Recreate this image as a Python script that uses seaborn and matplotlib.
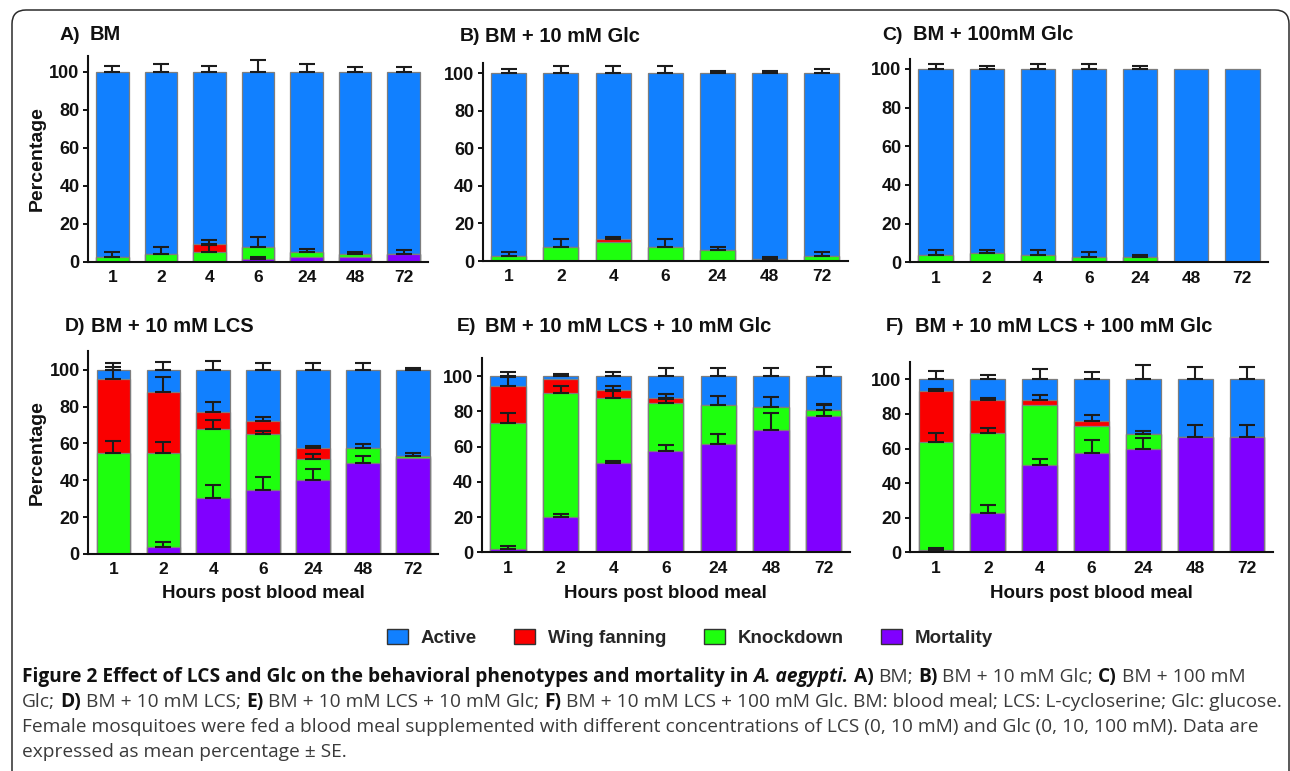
import numpy as np
import matplotlib
matplotlib.use('Agg')
import matplotlib.pyplot as plt
from matplotlib.patches import FancyBboxPatch, Patch
import seaborn as sns

hours = ['1', '2', '4', '6', '24', '48', '72']

# A) BM
mort_A = [0, 0, 0, 1.4, 2.5, 2.5, 3.9]
knock_A = [2.5, 3.9, 4.9, 6.5, 2.8, 1.4, 0]
wing_A = [0, 0, 4.2, 0, 0, 0, 0]
active_A = [97.5, 96.1, 90.9, 92.1, 94.7, 96.1, 96.1]
mort_se_A = [0, 0, 0, 1.1, 0, 0, 2.4]
knock_se_A = [2.8, 4.0, 3.7, 4.9, 1.2, 1.4, 0]
wing_se_A = [0, 0, 2.3, 0, 0, 0, 0]
active_se_A = [2.8, 4.2, 2.8, 6.1, 3.9, 2.5, 2.5]

# B) BM + 10 mM Glc
mort_B = [0, 0, 0, 0, 0, 0, 0]
knock_B = [2.5, 7.5, 10.1, 7.5, 6.0, 0.9, 2.5]
wing_B = [0, 0, 1.4, 0, 0, 0, 0]
active_B = [97.5, 92.5, 88.5, 92.5, 94.0, 99.1, 97.5]
mort_se_B = [0, 0, 0, 0, 0, 0, 0]
knock_se_B = [2.5, 4.0, 0, 4.0, 1.6, 1.2, 2.5]
wing_se_B = [0, 0, 1.3, 0, 0, 0, 0]
active_se_B = [2.3, 3.9, 3.9, 3.9, 1.1, 1.1, 2.3]

# C) BM + 100mM Glc
mort_C = [0, 0, 0, 0, 0, 0, 0]
knock_C = [3.8, 5.0, 3.8, 2.6, 2.6, 0, 0]
wing_C = [0, 0, 0, 0, 0, 0, 0]
active_C = [96.2, 95.0, 96.2, 97.4, 97.4, 100, 100]
mort_se_C = [0, 0, 0, 0, 0, 0, 0]
knock_se_C = [2.4, 1.6, 2.4, 2.6, 1.2, 0, 0]
wing_se_C = [0, 0, 0, 0, 0, 0, 0]
active_se_C = [2.4, 1.4, 2.4, 2.8, 1.4, 0, 0]

# D) BM + 10 mM LCS
mort_D = [0, 4.0, 30.6, 34.7, 40.1, 49.4, 52.1]
knock_D = [54.6, 50.6, 37.3, 30.6, 11.6, 8.1, 1.2]
wing_D = [40.2, 33.2, 9.3, 6.9, 5.8, 0, 0]
active_D = [5.2, 12.2, 22.8, 27.8, 42.5, 42.5, 46.7]
mort_se_D = [0, 2.3, 6.7, 6.9, 5.8, 3.6, 0]
knock_se_D = [6.7, 6.0, 5.0, 1.6, 2.5, 2.2, 1.3]
wing_se_D = [6.8, 8.2, 5.0, 2.3, 1.1, 0, 0]
active_se_D = [3.6, 4.0, 4.9, 3.8, 3.4, 3.4, 1.1]

# E) BM + 10 mM LCS + 10 mM Glc
mort_E = [2.1, 19.9, 50.6, 57.4, 61.4, 69.3, 77.3]
knock_E = [71.2, 70.6, 37.2, 27.6, 22.5, 13.1, 3.8]
wing_E = [21.4, 8.0, 4.2, 2.9, 0, 0, 0]
active_E = [5.3, 1.5, 8.0, 12.1, 16.1, 17.6, 18.9]
mort_se_E = [1.7, 2.1, 1.5, 3.4, 5.8, 9.7, 6.2]
knock_se_E = [5.7, 4.0, 3.7, 2.0, 4.9, 6.0, 3.4]
wing_se_E = [5.1, 0, 2.5, 1.9, 0, 0, 0]
active_se_E = [2.6, 1.3, 2.3, 4.5, 4.5, 4.7, 5.3]

# F) BM + 10 mM LCS + 100 mM Glc
mort_F = [1.2, 22.5, 50.5, 57.4, 59.9, 66.7, 66.7]
knock_F = [62.6, 46.5, 34.5, 15.6, 8.3, 0, 0]
wing_F = [29.5, 19.1, 3.1, 3.1, 0, 0, 0]
active_F = [6.7, 11.9, 11.9, 23.9, 31.8, 33.3, 33.3]
mort_se_F = [1.1, 4.9, 3.6, 7.3, 6.2, 6.9, 6.9]
knock_se_F = [5.4, 2.9, 0, 0, 2.0, 0, 0]
wing_se_F = [1.1, 1.1, 2.8, 3.1, 0, 0, 0]
active_se_F = [4.8, 2.3, 6.2, 4.0, 8.1, 6.9, 6.9]

series_names = ['Active', 'Wing fanning', 'Knockdown', 'Mortality']
series_colors = ['#1180ff', '#fa0000', '#1eff0e', '#8000ff']

sns.set_style('ticks')
plt.rcParams['font.family'] = ['Liberation Sans', 'DejaVu Sans']
plt.rcParams['font.weight'] = 'bold'

W, H = 1290, 771
fig = plt.figure(figsize=(W / 100, H / 100), dpi=100)
fig.patch.set_facecolor('white')

# panel boxes in pixels: left, right, y of zero, y of top, ylim top
panels = [
    ('A)', 'BM', (60, 90, 35), (88, 428, 261.7, 55.7, 108.4),
     mort_A, knock_A, wing_A, active_A, mort_se_A, knock_se_A, wing_se_A, active_se_A),
    ('B)', 'BM + 10 mM Glc', (460, 485, 36.7), (482.7, 848, 261, 63.3, 105.3),
     mort_B, knock_B, wing_B, active_B, mort_se_B, knock_se_B, wing_se_B, active_se_B),
    ('C)', 'BM + 100mM Glc', (882.7, 913.3, 35), (910, 1268, 262.3, 59.3, 105),
     mort_C, knock_C, wing_C, active_C, mort_se_C, knock_se_C, wing_se_C, active_se_C),
    ('D)', 'BM + 10 mM LCS', (65, 90.7, 326.7), (88.3, 438, 554, 350.7, 110.3),
     mort_D, knock_D, wing_D, active_D, mort_se_D, knock_se_D, wing_se_D, active_se_D),
    ('E)', 'BM + 10 mM LCS + 10 mM Glc', (456.7, 485, 326.7), (481.7, 850, 552.3, 358.3, 110.2),
     mort_E, knock_E, wing_E, active_E, mort_se_E, knock_se_E, wing_se_E, active_se_E),
    ('F)', 'BM + 10 mM LCS + 100 mM Glc', (886, 915, 326.7), (910, 1273, 552.3, 361.7, 110.2),
     mort_F, knock_F, wing_F, active_F, mort_se_F, knock_se_F, wing_se_F, active_se_F),
]

for i, (lab, title, tpos, box, mort, knock, wing, active, mse, kse, wse, ase) in enumerate(panels):
    l, r, y0, yt, ytop = box
    ax = fig.add_axes([l / W, 1 - y0 / H, (r - l) / W, (y0 - yt) / H])
    cum_m = np.array(mort, float)
    cum_k = cum_m + np.array(knock)
    cum_w = cum_k + np.array(wing)
    cum_a = cum_w + np.array(active)
    for cum, c in zip([cum_a, cum_w, cum_k, cum_m], series_colors):
        sns.barplot(x=hours, y=cum, order=hours, color=c, saturation=1, width=0.67,
                    edgecolor='#7d7d7d', linewidth=0.9, errorbar=None, ax=ax)
    for cum, se in [(cum_m, mse), (cum_k, kse), (cum_w, wse), (cum_a, ase)]:
        se = np.array(se, float)
        m = se > 0
        if m.any():
            ax.errorbar(np.arange(len(hours))[m], cum[m], yerr=[np.zeros(m.sum()), se[m]],
                        fmt='none', ecolor='#1c1c1c', elinewidth=1.5, capsize=5.5,
                        capthick=1.5, zorder=5)
    ax.set_xlim(-0.5, 6.5)
    ax.set_ylim(0, ytop)
    ax.set_yticks(range(0, 101, 20))
    ax.set_xlabel('')
    ax.set_ylabel('')
    sns.despine(ax=ax)
    for s in ['left', 'bottom']:
        ax.spines[s].set_linewidth(1.5)
        ax.spines[s].set_color('#111111')
    ax.tick_params(axis='y', direction='out', length=3.6, width=1.4, pad=2.5,
                   labelsize=13, colors='#111111')
    ax.tick_params(axis='x', length=0, pad=6, labelsize=12.5, colors='#111111')

    fig.text(tpos[0] / W, 1 - tpos[2] / H, lab, ha='left', va='center',
             fontsize=14, weight='bold', color='#111111')
    fig.text(tpos[1] / W, 1 - tpos[2] / H, title, ha='left', va='center',
             fontsize=14.5, weight='bold', color='#111111')
    if i in (0, 3):
        fig.text(37 / W, 1 - (y0 + yt) / 2 / H, 'Percentage', rotation=90,
                 ha='center', va='center', fontsize=14, weight='bold', color='#111111')
    if i >= 3:
        fig.text((l + r) / 2 / W, 1 - 594 / H, 'Hours post blood meal',
                 ha='center', va='center', fontsize=13.5, weight='bold', color='#111111')

handles = [Patch(facecolor=c, edgecolor='#333333', linewidth=1, label=n)
           for n, c in zip(series_names, series_colors)]
fig.legend(handles=handles, loc='center', bbox_to_anchor=(690 / W, 1 - 638 / H), ncol=4,
           frameon=False, prop={'weight': 'bold', 'size': 13.5}, handlelength=1.1,
           handleheight=0.85, columnspacing=2.0, handletextpad=0.7)

# rounded frame round the whole figure
frame = FancyBboxPatch((12, -30), 1277, 791, boxstyle='round,pad=0,rounding_size=14',
                       transform=None, fill=False, edgecolor='#2b2b2b', linewidth=1.1)
fig.add_artist(frame)

# caption with mixed bold / regular runs
renderer = fig.canvas.get_renderer()


def make_styles(cs):
    fam = ['Open Sans', 'DejaVu Sans']
    return {
        'n': dict(family=fam, size=cs, weight='normal', color='#3a3a3a'),
        'b': dict(family=fam, size=cs, weight='bold', color='#111111'),
        'bi': dict(family=fam, size=cs, weight='bold', style='italic', color='#111111'),
    }


def text_width(s, kw):
    t = fig.text(0, 0, '|' + s + '|', **kw)
    w = t.get_window_extent(renderer).width
    t.remove()
    t = fig.text(0, 0, '||', **kw)
    w0 = t.get_window_extent(renderer).width
    t.remove()
    return w - w0


def runs_width(runs, styles):
    return sum(text_width(s, styles[st]) for s, st in runs)


def draw_runs(runs, x, y, styles):
    for s, st in runs:
        kw = styles[st]
        lead = len(s) - len(s.lstrip(' '))
        core = s.strip(' ')
        if core:
            fig.text((x + text_width(' ' * lead, kw)) / W, 1 - y / H, core,
                     ha='left', va='baseline', **kw)
        x += text_width(s, kw)


caption = [
    [('Figure 2 Effect of LCS and Glc on the behavioral phenotypes and mortality in ', 'b'),
     ('A. aegypti.', 'bi'), (' ', 'n'), ('A)', 'b'), (' BM; ', 'n'), ('B)', 'b'),
     (' BM + 10 mM Glc; ', 'n'), ('C)', 'b'), (' BM + 100 mM', 'n')],
    [('Glc; ', 'n'), ('D)', 'b'), (' BM + 10 mM LCS; ', 'n'), ('E)', 'b'),
     (' BM + 10 mM LCS + 10 mM Glc; ', 'n'), ('F)', 'b'),
     (' BM + 10 mM LCS + 100 mM Glc. BM: blood meal; LCS: L-cycloserine; Glc: glucose.', 'n')],
    [('Female mosquitoes were fed a blood meal supplemented with different concentrations '
      'of LCS (0, 10 mM) and Glc (0, 10, 100 mM). Data are', 'n')],
    [('expressed as mean percentage \u00b1 SE.', 'n')],
]
# size the caption so its second line runs to the same right edge as the reference
base = 10
cs = base * 1259 / runs_width(caption[1], make_styles(base))
styles = make_styles(cs)
for k, runs in enumerate(caption):
    draw_runs(runs, 22, 682 + 25 * k, styles)

fig.savefig('out.png', dpi=100)
